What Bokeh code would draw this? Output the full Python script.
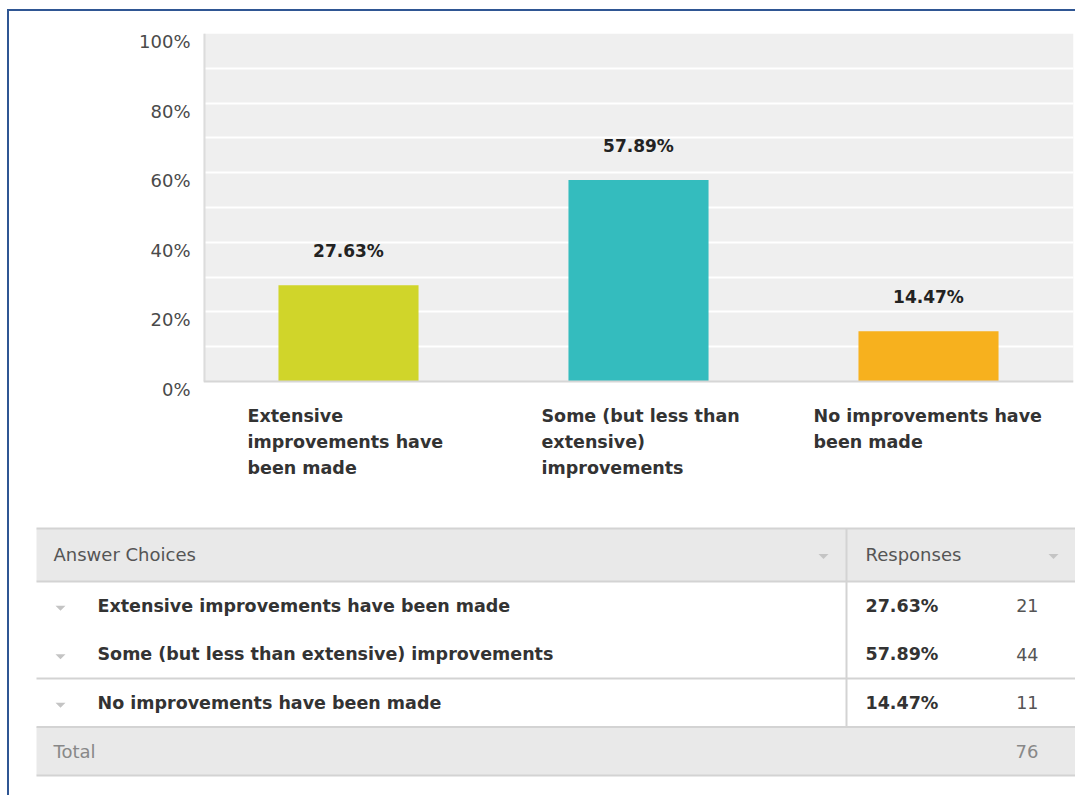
from bokeh.plotting import figure
from bokeh.models import (FactorRange, Range1d, LinearAxis, FixedTicker, Grid,
                          BoxAnnotation, Span, ColumnDataSource, PrintfTickFormatter)
from bokeh.layouts import column
from bokeh.embed import file_html
from bokeh.resources import INLINE
from bokeh.core.properties import value

# ---------------- data ----------------
categories = ["Extensive improvements have been made",
              "Some (but less than extensive) improvements",
              "No improvements have been made"]
axis_labels = ["Extensive\nimprovements have\nbeen made",
               "Some (but less than\nextensive)\nimprovements",
               "No improvements have\nbeen made"]
percents = [27.63, 57.89, 14.47]
counts = [21, 44, 11]
bar_colors = ["#d0d52a", "#34bcbe", "#f7b11e"]
y_ticks = [0, 20, 40, 60, 80, 100]
grid_ticks = [10, 20, 30, 40, 50, 60, 70, 80, 90, 100]
header_labels = ["Answer Choices", "Responses"]
total_label = "Total"
total = sum(counts)

FONT = "DejaVu Sans"

# ---------------- chart ----------------
FRAME_H_DATA = 348.0          # px for 0..100
px_per_unit = FRAME_H_DATA / 100.0
shift = 8 / px_per_unit       # labels sit ~8px below their gridline

p = figure(x_range=FactorRange(factors=categories, range_padding=0),
           y_range=Range1d(-shift, 100),
           width=1066, height=494,
           min_border_left=194, min_border_right=2,
           min_border_top=22, min_border_bottom=116,
           x_axis_location=None, y_axis_location=None,
           toolbar_location=None, output_backend="svg")
p.frame_align = False
p.center = [r for r in p.center if not isinstance(r, Grid)]
p.background_fill_color = "white"
p.border_fill_color = "white"
p.outline_line_color = None

# plot background panel 0..100
p.add_layout(BoxAnnotation(bottom=0, top=100, fill_color="#efefef", fill_alpha=1,
                           line_color=None, level="image"))
p.add_layout(Grid(dimension=1, ticker=FixedTicker(ticks=grid_ticks),
                  grid_line_color="white", grid_line_width=2))
p.add_layout(Span(location=0, dimension="width", line_color="#d6d6d6", line_width=2))
p.segment(x0=0, y0=0, x1=0, y1=100, line_color="#dcdcdc", line_width=4)

# y axis labels
p.extra_y_ranges = {"lab": Range1d(0, 100 + shift)}
yax = LinearAxis(y_range_name="lab", ticker=FixedTicker(ticks=y_ticks),
                 formatter=PrintfTickFormatter(format="%d%%"),
                 axis_line_color=None, major_tick_line_color=None,
                 minor_tick_line_color=None, major_tick_out=0, major_tick_in=0,
                 major_label_standoff=13,
                 major_label_text_font=FONT, major_label_text_font_size="18px",
                 major_label_text_color="#4a4a4a")
p.add_layout(yax, "left")

src = ColumnDataSource(dict(
    cat=categories, pct=percents, color=bar_colors,
    plabel=[f"{v:.2f}%" for v in percents], alabel=axis_labels,
))
p.vbar(x="cat", top="pct", width=0.483, color="color", line_color=None, source=src)

p.text(x="cat", y="pct", text="plabel", source=src, y_offset=-34,
       text_align="center", text_baseline="middle",
       text_font=value(FONT), text_font_style="bold", text_font_size="17px",
       text_color="#222222")

label_dx = [-101, -97, -115]
src2 = ColumnDataSource(dict(cat=categories, alabel=axis_labels, dx=label_dx,
                             y0=[0] * len(categories)))
p.text(x="cat", y="y0", text="alabel", x_offset="dx", y_offset=24, source=src2,
       text_align="left", text_baseline="top", text_line_height=1.31,
       text_font=value(FONT), text_font_style="bold", text_font_size="17.5px",
       text_color="#333333", level="annotation")

# ---------------- table ----------------
TW, TH = 1066, 290
t = figure(width=TW, height=TH, x_range=Range1d(0, TW), y_range=Range1d(TH, 0),
           min_border=0, x_axis_location=None, y_axis_location=None,
           toolbar_location=None, output_backend="svg")
t.frame_align = False
t.center = [r for r in t.center if not isinstance(r, Grid)]
t.outline_line_color = None
t.background_fill_color = "white"
t.border_fill_color = "white"

TL, TR, DIV = 27, 1066, 837
HEAD_TOP, HEAD_BOT, ROW_H = 23, 76, 48.5
n = len(categories)
row_y = [HEAD_BOT + (i + 0.5) * ROW_H for i in range(n)]
tot_top = HEAD_BOT + n * ROW_H
tot_bot = tot_top + ROW_H
tot_y = (tot_top + tot_bot) / 2
head_y = (HEAD_TOP + HEAD_BOT) / 2 - 1

t.quad(left=[TL, TL], right=[TR, TR], top=[HEAD_TOP, tot_top], bottom=[HEAD_BOT, tot_bot],
       fill_color="#e9e9e9", line_color=None)
# horizontal rules
hy = [HEAD_TOP, HEAD_BOT, HEAD_BOT + 2 * ROW_H, tot_top, tot_bot]
t.segment(x0=[TL] * len(hy), x1=[TR] * len(hy), y0=hy, y1=hy,
          line_color="#d3d3d3", line_width=2)
t.segment(x0=[DIV], x1=[DIV], y0=[HEAD_TOP], y1=[tot_top], line_color="#d3d3d3", line_width=2)

# dropdown arrows
arrow_c = [(DIV - 23, head_y + 2), (TR - 22, head_y + 2)] + [(51, y + 2) for y in row_y]
t.patches(xs=[[cx - 5, cx + 5, cx] for cx, cy in arrow_c],
          ys=[[cy - 2, cy - 2, cy + 3] for cx, cy in arrow_c],
          fill_color="#c4c4c4", line_color=None)

t.text(x=[44, DIV + 19], y=[head_y, head_y], text=header_labels,
       text_baseline="middle", text_align="left", text_font=value(FONT),
       text_font_size="18px", text_color="#555555")
t.text(x=[88] * n, y=row_y, text=categories, text_baseline="middle", text_align="left",
       text_font=value(FONT), text_font_style="bold", text_font_size="17.5px",
       text_color="#333333")
t.text(x=[DIV + 19] * n, y=row_y, text=[f"{v:.2f}%" for v in percents],
       text_baseline="middle", text_align="left", text_font=value(FONT),
       text_font_style="bold", text_font_size="17.5px", text_color="#333333")
t.text(x=[TR - 37] * n, y=row_y, text=[str(c) for c in counts],
       text_baseline="middle", text_align="right", text_font=value(FONT),
       text_font_size="17.5px", text_color="#555555")
t.text(x=[44, TR - 37], y=[tot_y, tot_y], text=[total_label, str(total)],
       text_baseline="middle", text_align=["left", "right"], text_font=value(FONT),
       text_font_size="18px", text_color="#888888")

layout = column(p, t, styles={"border-top": "2px solid #2f5693",
                              "border-left": "2px solid #2f5693",
                              "margin-left": "7px", "margin-top": "9px"})

open("out.html", "w").write(file_html(layout, INLINE))
